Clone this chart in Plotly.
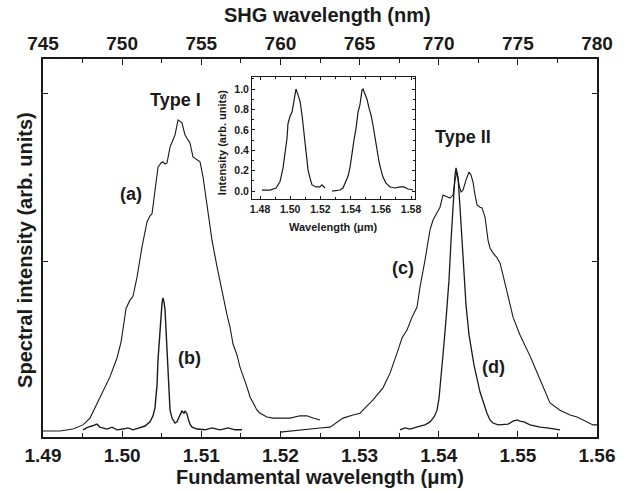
import plotly.graph_objects as go

# ---------------- data ----------------
# (a) Type I broadband SHG spectrum
a_wl = [1.4900, 1.49215, 1.49379, 1.49505, 1.49594, 1.49720, 1.49846, 1.49935, 1.49986, 1.50024,
        1.50049, 1.50099, 1.50137, 1.50188, 1.50251, 1.50314, 1.50352, 1.50377, 1.50415, 1.50453,
        1.50491, 1.50516, 1.50542, 1.50567, 1.50605, 1.50668, 1.50706, 1.50731, 1.50756, 1.50794,
        1.50832, 1.50857, 1.50895, 1.50946, 1.50984, 1.51022, 1.51072, 1.51135, 1.51199, 1.51274,
        1.51325, 1.51363, 1.51401, 1.51451, 1.51489, 1.51578, 1.51616, 1.51704, 1.51742, 1.51830,
        1.51906, 1.51994, 1.52121, 1.52247, 1.52336, 1.52412, 1.52500]
a_int = [0.016, 0.016, 0.021, 0.032, 0.050, 0.106, 0.159, 0.209, 0.251, 0.304,
         0.340, 0.362, 0.372, 0.423, 0.503, 0.569, 0.585, 0.590, 0.646, 0.714,
         0.725, 0.728, 0.722, 0.725, 0.767, 0.799, 0.839, 0.836, 0.831, 0.799,
         0.786, 0.778, 0.741, 0.733, 0.728, 0.688, 0.608, 0.521, 0.450, 0.370,
         0.323, 0.291, 0.246, 0.217, 0.185, 0.132, 0.106, 0.071, 0.063, 0.053,
         0.050, 0.050, 0.050, 0.056, 0.056, 0.050, 0.045]

# (b) Type I narrowband SHG spectrum
b_wl = [1.49505, 1.49569, 1.49619, 1.49682, 1.49720, 1.49771, 1.49809, 1.49872, 1.49935, 1.50011,
        1.50074, 1.50137, 1.50226, 1.50289, 1.50352, 1.50390, 1.50415, 1.50441, 1.50453, 1.50466,
        1.50478, 1.50491, 1.50504, 1.50516, 1.50529, 1.50542, 1.50554, 1.50567, 1.50580, 1.50605,
        1.50630, 1.50668, 1.50693, 1.50706, 1.50731, 1.50756, 1.50782, 1.50794, 1.50820, 1.50832,
        1.50857, 1.50883, 1.50946, 1.51047, 1.51135, 1.51237, 1.51338, 1.51426, 1.51515]
b_int = [0.019, 0.026, 0.029, 0.034, 0.026, 0.024, 0.021, 0.026, 0.019, 0.021,
         0.024, 0.019, 0.026, 0.029, 0.040, 0.056, 0.077, 0.138, 0.204, 0.243,
         0.288, 0.328, 0.354, 0.368, 0.357, 0.336, 0.283, 0.230, 0.151, 0.071,
         0.050, 0.037, 0.040, 0.048, 0.058, 0.069, 0.063, 0.069, 0.061, 0.050,
         0.034, 0.026, 0.021, 0.019, 0.024, 0.019, 0.024, 0.019, 0.019]

# (c) Type II broadband SHG spectrum
c_wl = [1.51995, 1.52121, 1.52247, 1.52374, 1.52500, 1.52627, 1.52791, 1.52917, 1.53006, 1.53043,
        1.53170, 1.53296, 1.53385, 1.53473, 1.53536, 1.53599, 1.53663, 1.53726, 1.53764, 1.53827,
        1.53890, 1.53928, 1.53979, 1.54016, 1.54054, 1.54105, 1.54143, 1.54181, 1.54206, 1.54231,
        1.54257, 1.54282, 1.54307, 1.54345, 1.54383, 1.54408, 1.54433, 1.54459, 1.54484, 1.54522,
        1.54547, 1.54585, 1.54623, 1.54648, 1.54686, 1.54737, 1.54775, 1.54812, 1.54863, 1.54939,
        1.55027, 1.55091, 1.55154, 1.55217, 1.55280, 1.55369, 1.55406, 1.55533, 1.55659, 1.55748,
        1.55849, 1.55950, 1.56000]
c_int = [0.013, 0.016, 0.019, 0.021, 0.024, 0.026, 0.050, 0.058, 0.063, 0.071,
         0.098, 0.130, 0.169, 0.222, 0.262, 0.283, 0.317, 0.344, 0.397, 0.468,
         0.548, 0.574, 0.595, 0.608, 0.640, 0.635, 0.632, 0.640, 0.680, 0.701,
         0.667, 0.648, 0.653, 0.680, 0.701, 0.693, 0.675, 0.640, 0.614, 0.608,
         0.606, 0.582, 0.521, 0.500, 0.487, 0.474, 0.460, 0.429, 0.381, 0.317,
         0.270, 0.243, 0.214, 0.183, 0.151, 0.106, 0.090, 0.071, 0.058, 0.053,
         0.042, 0.032, 0.032]

# (d) Type II narrowband SHG spectrum
d_wl = [1.53511, 1.53574, 1.53637, 1.53701, 1.53764, 1.53827, 1.53890, 1.53941, 1.53979, 1.54004,
        1.54029, 1.54054, 1.54092, 1.54130, 1.54156, 1.54181, 1.54206, 1.54219, 1.54231, 1.54244,
        1.54269, 1.54307, 1.54345, 1.54383, 1.54446, 1.54522, 1.54572, 1.54610, 1.54648, 1.54686,
        1.54749, 1.54813, 1.54876, 1.54939, 1.54990, 1.55027, 1.55078, 1.55154, 1.55217, 1.55280,
        1.55369, 1.55444, 1.55533]
d_int = [0.019, 0.024, 0.021, 0.026, 0.029, 0.032, 0.040, 0.053, 0.071, 0.103,
         0.151, 0.217, 0.310, 0.415, 0.521, 0.614, 0.693, 0.712, 0.701, 0.685,
         0.608, 0.463, 0.349, 0.270, 0.190, 0.119, 0.085, 0.063, 0.045, 0.037,
         0.032, 0.032, 0.034, 0.042, 0.045, 0.042, 0.040, 0.032, 0.029, 0.026,
         0.024, 0.021, 0.019]

# inset: fundamental spectra (normalised)
i1_wl = [1.4813, 1.4866, 1.4906, 1.4932, 1.4952, 1.4966, 1.4979, 1.4985, 1.4999, 1.5012,
         1.5025, 1.5038, 1.5052, 1.5065, 1.5078, 1.5091, 1.5105, 1.5118, 1.5131, 1.5144,
         1.5171, 1.5197, 1.5210, 1.5230]
i1_int = [0.01, 0.01, 0.03, 0.09, 0.225, 0.40, 0.52, 0.66, 0.735, 0.775,
          0.89, 1.0, 0.94, 0.88, 0.745, 0.55, 0.38, 0.205, 0.127, 0.06,
          0.04, 0.04, 0.06, 0.03]
i2_wl = [1.5277, 1.5330, 1.5349, 1.5369, 1.5383, 1.5396, 1.5409, 1.5422, 1.5436, 1.5449,
         1.5462, 1.5475, 1.5482, 1.5495, 1.5508, 1.5522, 1.5535, 1.5548, 1.5561, 1.5575,
         1.5588, 1.5601, 1.5614, 1.5634, 1.5661, 1.5694, 1.5727, 1.5753, 1.5780, 1.5813]
i2_int = [0.0, 0.01, 0.03, 0.09, 0.147, 0.235, 0.38, 0.50, 0.62, 0.775,
          0.85, 0.99, 1.0, 0.94, 0.90, 0.81, 0.745, 0.645, 0.52, 0.38,
          0.285, 0.205, 0.137, 0.078, 0.04, 0.03, 0.04, 0.04, 0.02, 0.01]

bottom_ticks = [1.49, 1.50, 1.51, 1.52, 1.53, 1.54, 1.55, 1.56]
top_ticks = [745, 750, 755, 760, 765, 770, 775, 780]
inset_xticks = [1.48, 1.50, 1.52, 1.54, 1.56, 1.58]
inset_yticks = [0.0, 0.2, 0.4, 0.6, 0.8, 1.0]

# ---------------- figure ----------------
FONT = "Liberation Sans"
BLK = "#1a1a1a"

fig = go.Figure()
for xs, ys, w in [(a_wl, a_int, 1.1), (b_wl, b_int, 1.4), (c_wl, c_int, 1.1), (d_wl, d_int, 1.3)]:
    fig.add_trace(go.Scatter(x=xs, y=ys, mode="lines", line=dict(color=BLK, width=w),
                             xaxis="x", yaxis="y", hoverinfo="skip", showlegend=False))

# helper trace on the top (SHG) axis so that it is drawn
fig.add_trace(go.Scatter(x=[v * 500 for v in a_wl], y=a_int, mode="lines",
                         line=dict(width=0, color="rgba(0,0,0,0)"), xaxis="x2", yaxis="y",
                         hoverinfo="skip", showlegend=False))

for xs, ys in [(i1_wl, i1_int), (i2_wl, i2_int)]:
    fig.add_trace(go.Scatter(x=xs, y=ys, mode="lines", line=dict(color=BLK, width=1.2),
                             xaxis="x3", yaxis="y3", hoverinfo="skip", showlegend=False))

big = dict(family=FONT, size=19, color=BLK, weight="bold")
small = dict(family=FONT, size=10.5, color=BLK, weight="bold")

fig.update_layout(
    width=626, height=492,
    margin=dict(l=43, r=29, t=59, b=55),
    paper_bgcolor="white", plot_bgcolor="white",
    showlegend=False,
    xaxis=dict(range=[1.49, 1.56], tickvals=bottom_ticks,
               ticktext=[f"{v:.2f}" for v in bottom_ticks],
               showgrid=False, zeroline=False, showline=True, linecolor=BLK, linewidth=1.6,
               ticks="inside", ticklen=6, tickwidth=1.2, tickcolor=BLK, tickfont=big,
               minor=dict(tickvals=[1.495, 1.505, 1.515, 1.525, 1.535, 1.545, 1.555],
                          ticks="inside", ticklen=4, tickwidth=1, tickcolor=BLK),
               domain=[0, 1], anchor="y"),
    xaxis2=dict(range=[745, 780], tickvals=top_ticks, ticktext=[str(v) for v in top_ticks],
                overlaying="x", side="top", anchor="y",
                showgrid=False, zeroline=False, showline=True, linecolor=BLK, linewidth=1.6,
                ticks="inside", ticklen=6, tickwidth=1.2, tickcolor=BLK, tickfont=big,
                minor=dict(tickvals=[747.5, 752.5, 757.5, 762.5, 767.5, 772.5, 777.5],
                           ticks="inside", ticklen=4, tickwidth=1, tickcolor=BLK)),
    yaxis=dict(range=[0, 1], tickvals=[0.463, 0.91], showticklabels=False,
               showgrid=False, zeroline=False, showline=True, linecolor=BLK, linewidth=1.6,
               mirror="ticks", ticks="inside", ticklen=5, tickwidth=1, tickcolor=BLK,
               domain=[0, 1], anchor="x"),
    xaxis3=dict(range=[1.4747, 1.5826], tickvals=inset_xticks,
                ticktext=[f"{v:.2f}" for v in inset_xticks],
                domain=[0.3773, 0.6715], anchor="y3",
                showgrid=False, zeroline=False, showline=True, linecolor=BLK, linewidth=1,
                mirror="ticks", ticks="inside", ticklen=3, tickwidth=1, tickcolor=BLK,
                tickfont=small,
                minor=dict(dtick=0.01, tick0=1.47, ticks="inside", ticklen=2, tickcolor=BLK)),
    yaxis3=dict(range=[-0.078, 1.118], tickvals=inset_yticks,
                ticktext=[f"{v:.1f}" for v in inset_yticks],
                domain=[0.6296, 0.9524], anchor="x3",
                showgrid=False, zeroline=False, showline=True, linecolor=BLK, linewidth=1,
                mirror="ticks", ticks="inside", ticklen=3, tickwidth=1, tickcolor=BLK,
                tickfont=small,
                minor=dict(dtick=0.1, tick0=0, ticks="inside", ticklen=2, tickcolor=BLK)),
)

title_font = dict(family=FONT, size=20, color=BLK, weight="bold")
label_font = dict(family=FONT, size=18, color=BLK, weight="bold")
inset_title_font = dict(family=FONT, size=11, color=BLK, weight="bold")

annots = [
    # axis titles
    dict(text="SHG wavelength (nm)", x=0.5144, y=1.117, xref="paper", yref="paper",
         showarrow=False, font=title_font, xanchor="center", yanchor="middle"),
    dict(text="Fundamental wavelength (\u03bcm)", x=0.5, y=-0.107, xref="paper", yref="paper",
         showarrow=False, font=title_font, xanchor="center", yanchor="middle"),
    dict(text="Spectral intensity (arb. units)", x=-0.0325, y=0.495, xref="paper", yref="paper",
         showarrow=False, font=title_font, textangle=-90, xanchor="center", yanchor="middle"),
    dict(text="Intensity (arb. units)", x=0.3231, y=0.780, xref="paper", yref="paper",
         showarrow=False, font=inset_title_font, textangle=-90, xanchor="center", yanchor="middle"),
    dict(text="Wavelength (\u03bcm)", x=0.5235, y=0.556, xref="paper", yref="paper",
         showarrow=False, font=inset_title_font, xanchor="center", yanchor="middle"),
    # curve labels
    dict(text="Type I", x=1.50668, y=0.892, xref="x", yref="y", showarrow=False, font=label_font),
    dict(text="Type II", x=1.54307, y=0.794, xref="x", yref="y", showarrow=False, font=label_font),
    dict(text="(a)", x=1.50110, y=0.643, xref="x", yref="y", showarrow=False, font=label_font),
    dict(text="(b)", x=1.50845, y=0.209, xref="x", yref="y", showarrow=False, font=label_font),
    dict(text="(c)", x=1.53549, y=0.447, xref="x", yref="y", showarrow=False, font=label_font),
    dict(text="(d)", x=1.54686, y=0.185, xref="x", yref="y", showarrow=False, font=label_font),
]
fig.update_layout(annotations=annots)

# the page body has a default 8px margin; remove it so the figure fills the window
fig.write_html("out.html", config={"displayModeBar": False},
               post_script="document.body.style.margin='0px';")
